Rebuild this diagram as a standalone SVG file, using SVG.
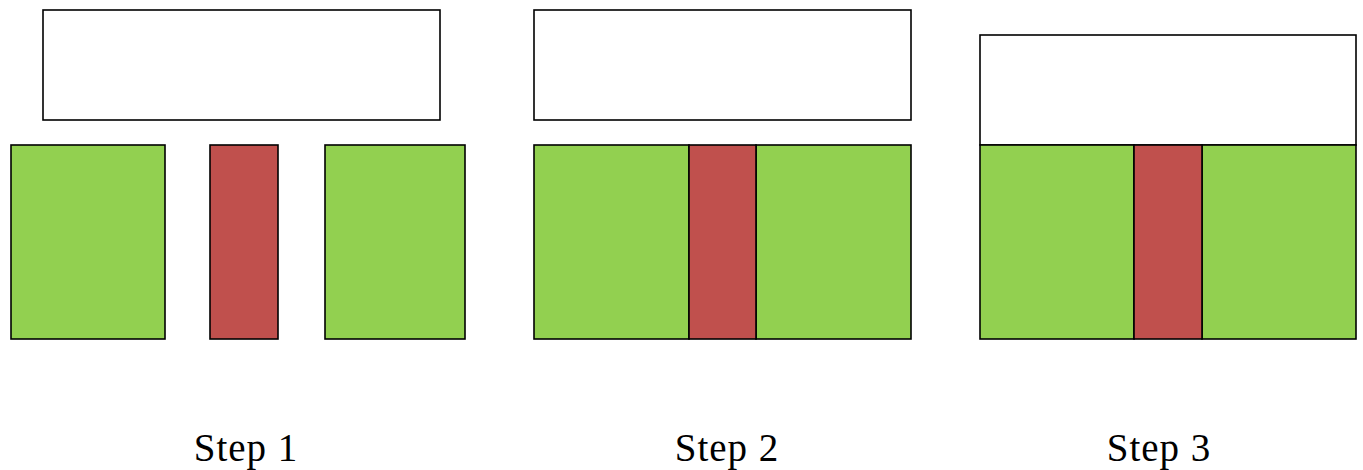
<svg xmlns="http://www.w3.org/2000/svg" width="1363" height="470" viewBox="0 0 1363 470">
<style>
.box{fill:#FFFFFF;stroke:#000;stroke-width:1.6}
.g{fill:#92D050;stroke:#000;stroke-width:1.6}
.r{fill:#C0504D;stroke:#000;stroke-width:1.6}
.lbl{font-family:"Liberation Serif",serif;font-size:39px;letter-spacing:1px;fill:#000;text-anchor:middle}
</style>
<rect width="1363" height="470" fill="#FFFFFF"/>
<g id="step1">
<rect id="s1-top" class="box" x="43" y="10" width="397" height="110"/>
<rect id="s1-left" class="g" x="11" y="145" width="154" height="194"/>
<rect id="s1-mid" class="r" x="210" y="145" width="68" height="194"/>
<rect id="s1-right" class="g" x="325" y="145" width="140" height="194"/>
<text class="lbl" x="246" y="461">Step 1</text>
</g>
<g id="step2">
<rect id="s2-top" class="box" x="534" y="10" width="377" height="110"/>
<rect id="s2-left" class="g" x="534" y="145" width="155" height="194"/>
<rect id="s2-right" class="g" x="756" y="145" width="155" height="194"/>
<rect id="s2-mid" class="r" x="689" y="145" width="67" height="194"/>
<text class="lbl" x="727" y="461">Step 2</text>
</g>
<g id="step3">
<rect id="s3-top" class="box" x="980" y="35" width="376" height="110"/>
<rect id="s3-left" class="g" x="980" y="145" width="154" height="194"/>
<rect id="s3-right" class="g" x="1202" y="145" width="154" height="194"/>
<rect id="s3-mid" class="r" x="1134" y="145" width="68" height="194"/>
<text class="lbl" x="1159" y="461">Step 3</text>
</g>
<g id="connectors"></g>
</svg>
